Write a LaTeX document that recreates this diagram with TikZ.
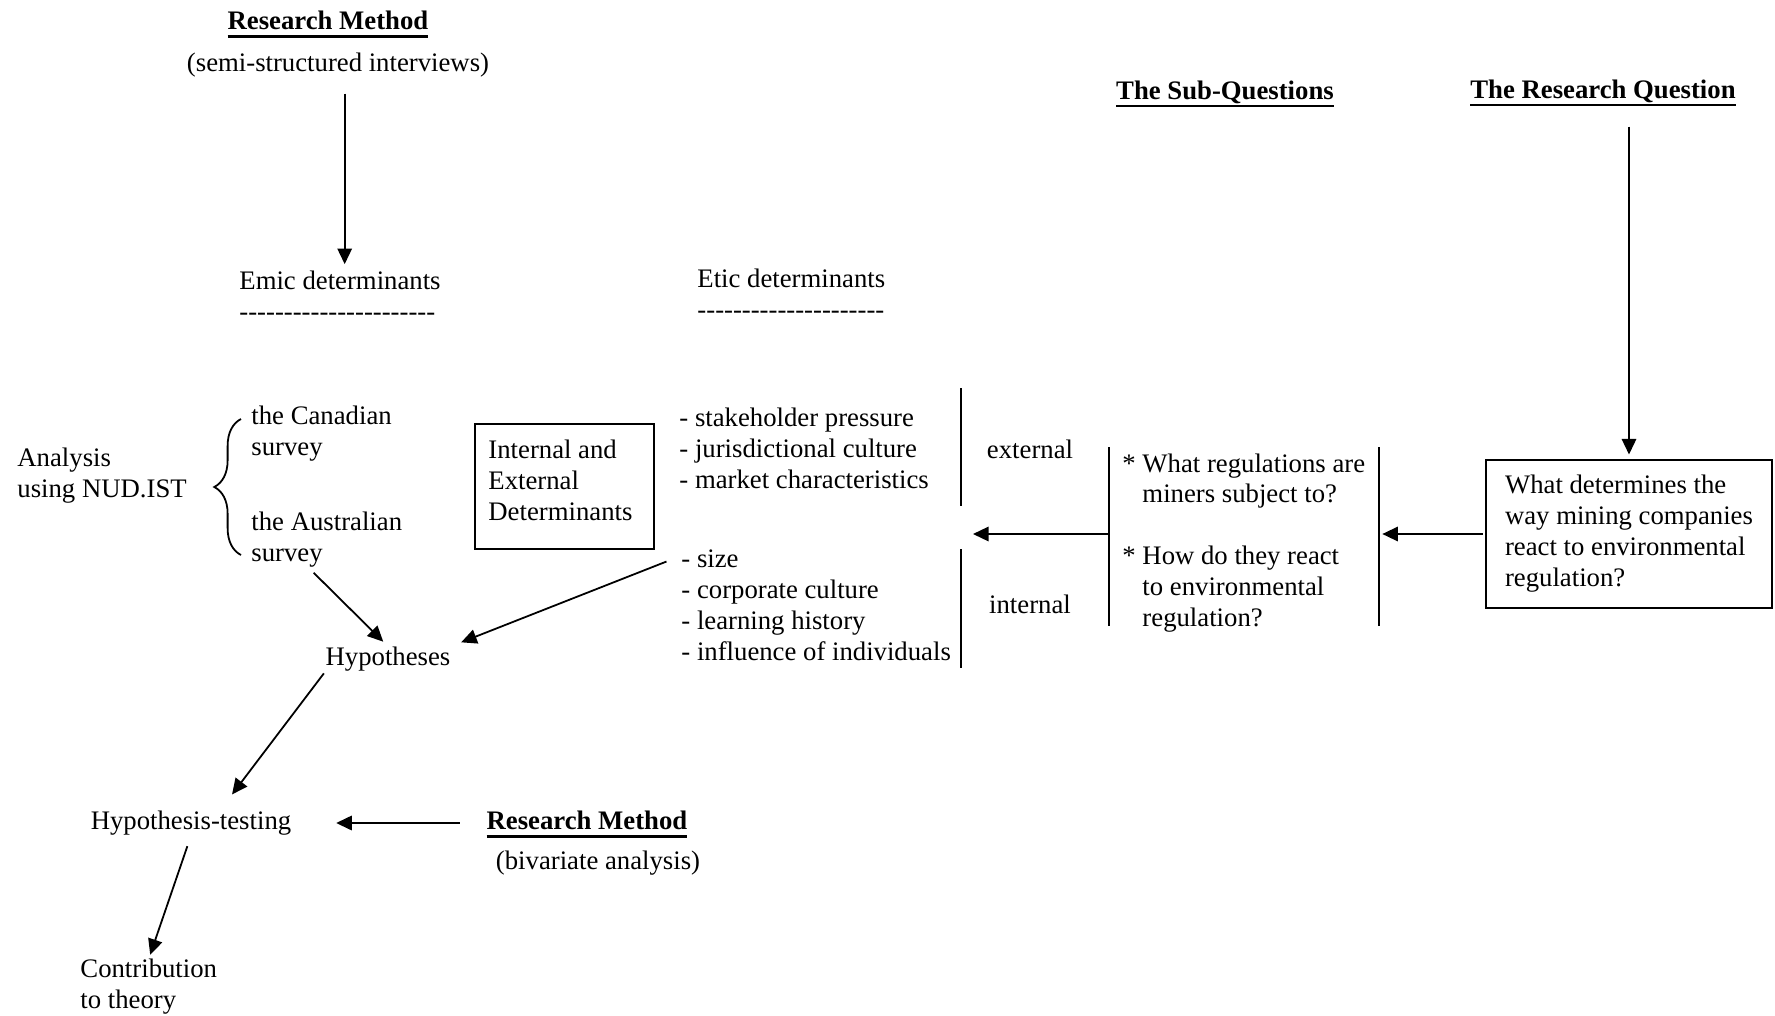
\documentclass[tikz,border=0pt]{standalone}
\usepackage{fontspec}
\setmainfont{Liberation Serif}
\usetikzlibrary{arrows.meta,decorations.pathreplacing}

\newcommand\uhead[1]{\setbox0\hbox{\textbf{#1}}\rlap{\vrule height -2.3pt depth 3.4pt width \wd0}\box0}
\newcommand\hyphrow[1]{\foreach \k in {1,...,#1}{\mbox{-}}}

\begin{document}
\begin{tikzpicture}[x=0.449pt,y=-0.449pt,
    font=\fontsize{12}{13.9}\selectfont,
    every node/.style={inner sep=0pt, align=left},
    box/.style={draw, line width=0.9pt},
    arr/.style={-{Triangle[length=7pt,width=6.5pt]}, line width=0.8pt},
    bar/.style={line width=0.8pt}]
  \useasboundingbox (0,0) rectangle (1775,1015);

  % headings
  \node (rmtop) at (328,24.5) {\uhead{Research Method}};
  \node (semi) at (338,65.5) {(semi-structured interviews)};
  \node (subq) at (1225,94) {\uhead{The Sub-Questions}};
  \node (rq) at (1603,93) {\uhead{The Research Question}};

  % determinants
  \node[anchor=west] (emic) at (239,296) {Emic determinants\\\hyphrow{22}};
  \node[anchor=west] (etic) at (697,294) {Etic determinants\\\hyphrow{21}};

  \node[anchor=west] (analysis) at (17,475.5) {Analysis\\using NUD.IST};
  \node[anchor=west] (canadian) at (251,434) {the Canadian\\survey};
  \node[anchor=west] (australian) at (251,540) {the Australian\\survey};
  \draw[decorate, decoration={brace, amplitude=12pt}, bar] (241,555) -- (241,419);

  \node[box, minimum width=80.4pt, minimum height=56.1pt] (iebox) at (564.5,486.5) {};
  \node[anchor=west] (ietext) at (488,480) {Internal and\\External\\Determinants};

  \node[anchor=west] (extlist) at (679,448)
    {- stakeholder pressure\\- jurisdictional culture\\- market characteristics};
  \node[anchor=west] (intlist) at (681,605)
    {- size\\- corporate culture\\- learning history\\- influence of individuals};

  \node (external) at (1030,449) {external};
  \node (internal) at (1030,604) {internal};

  \node[anchor=west] (subqtext) at (1122,543)
    {* What regulations are\\\hphantom{* }miners subject to?\\[13.9pt]
     * How do they react\\\hphantom{* }to environmental\\\hphantom{* }regulation?};

  \node[box, minimum width=128.4pt, minimum height=66.5pt] (rqbox) at (1629,534)
    {What determines the\\way mining companies\\react to environmental\\regulation?};

  \node (hyp) at (388,659) {Hypotheses};
  \node (hyptest) at (191,823) {Hypothesis-testing};
  \node (rmbot) at (587,824.5) {\uhead{Research Method}};
  \node (bivar) at (598,863) {(bivariate analysis)};
  \node[anchor=west] (contrib) at (80,987) {Contribution\\to theory};

  % bars
  \coordinate (ebar1) at (961,388); \coordinate (ebar2) at (961,506);
  \coordinate (ibar1) at (961,549); \coordinate (ibar2) at (961,668);
  \coordinate (lbar1) at (1109,447); \coordinate (lbar2) at (1109,626);
  \coordinate (rbar1) at (1379,447); \coordinate (rbar2) at (1379,626);
  \draw[bar] (ebar1) -- (ebar2);
  \draw[bar] (ibar1) -- (ibar2);
  \draw[bar] (lbar1) -- (lbar2);
  \draw[bar] (rbar1) -- (rbar2);

  % arrows
  \draw[arr, shorten <=7pt, shorten >=3pt] ([xshift=3pt]semi.south) -- ([xshift=3pt]semi.south |- emic.north);
  \draw[arr, shorten <=9pt, shorten >=2pt] (rqbox.north |- rq.south) -- (rqbox.north);
  \draw[arr, shorten <=1pt, shorten >=1.5pt] (rqbox.west) -- (rqbox.west -| rbar1);
  \draw[arr, shorten >=5.4pt] (lbar1 |- rqbox.west) -- (ebar1 |- rqbox.west);
  \draw[arr, shorten <=3pt, shorten >=3pt] ([xshift=-8pt]australian.south) -- (hyp.north);
  \draw[arr, shorten <=7pt, shorten >=5pt] (intlist.160) -- (hyp.north east);
  \draw[arr, shorten <=1pt, shorten >=9pt] (hyp.south west) -- ([xshift=13pt]hyptest.north);
  \draw[arr, shorten <=12pt, shorten >=20pt] (rmbot.west |- hyptest.east) -- (hyptest.east);
  \draw[arr, shorten <=5pt, shorten >=2pt] (hyptest.south) -- (contrib.north);
\end{tikzpicture}
\end{document}
